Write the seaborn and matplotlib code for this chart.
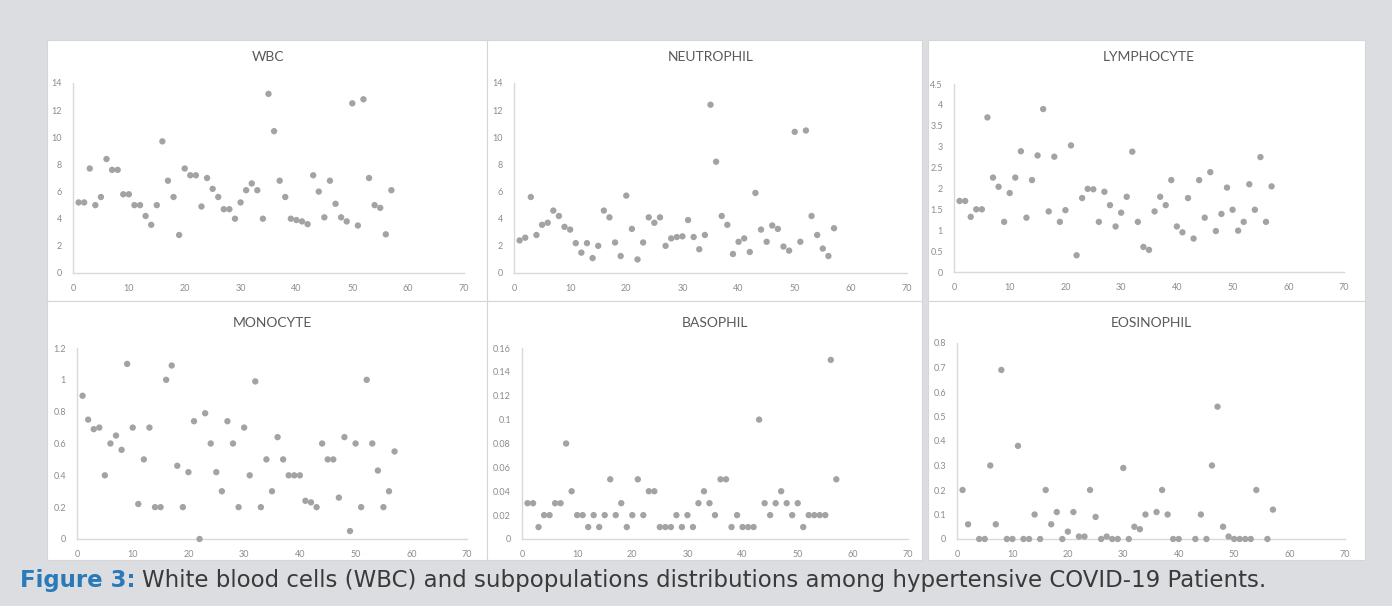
import numpy as np
import matplotlib
matplotlib.use("Agg")
import matplotlib.pyplot as plt
import seaborn as sns
from matplotlib.patches import Rectangle
from matplotlib.ticker import FuncFormatter, MultipleLocator

# patient number on the x axis
patients = np.arange(1, 58)

wbc = [5.2, 5.2, 7.7, 5.0, 5.6, 8.4, 7.6, 7.6, 5.8, 5.8,
       5.0, 5.0, 4.2, 3.55, 5.0, 9.7, 6.8, 5.6, 2.8, 7.7,
       7.2, 7.2, 4.9, 7.0, 6.2, 5.6, 4.7, 4.7, 4.0, 5.2,
       6.1, 6.6, 6.1, 4.0, 13.2, 10.45, 6.8, 5.6, 4.0, 3.9,
       3.8, 3.6, 7.2, 6.0, 4.1, 6.8, 5.1, 4.1, 3.8, 12.5,
       3.5, 12.8, 7.0, 5.0, 4.8, 2.85, 6.1]
neutrophil = [2.4, 2.6, 5.6, 2.8, 3.55, 3.7, 4.6, 4.2, 3.4, 3.2,
              2.2, 1.5, 2.2, 1.1, 2.0, 4.6, 4.1, 2.25, 1.25, 5.7,
              3.25, 1.0, 2.25, 4.1, 3.7, 4.1, 2.0, 2.55, 2.65, 2.7,
              3.9, 2.65, 1.75, 2.8, 12.4, 8.2, 4.2, 3.55, 1.4, 2.3,
              2.55, 1.55, 5.9, 3.2, 2.3, 3.5, 3.25, 1.95, 1.65, 10.4,
              2.3, 10.5, 4.2, 2.8, 1.8, 1.25, 3.3]
lymphocyte = [1.7, 1.7, 1.32, 1.5, 1.5, 3.7, 2.26, 2.04, 1.2, 1.89,
              2.26, 2.89, 1.3, 2.2, 2.79, 3.9, 1.45, 2.76, 1.2, 1.48,
              3.03, 0.4, 1.77, 1.99, 1.98, 1.2, 1.92, 1.6, 1.09, 1.42,
              1.8, 2.88, 1.2, 0.6, 0.53, 1.45, 1.8, 1.6, 2.2, 1.09,
              0.95, 1.77, 0.8, 2.2, 1.3, 2.39, 0.98, 1.39, 2.02, 1.49,
              0.99, 1.2, 2.1, 1.49, 2.75, 1.2, 2.05]
monocyte = [0.9, 0.75, 0.69, 0.7, 0.4, 0.6, 0.65, 0.56, 1.1, 0.7,
            0.22, 0.5, 0.7, 0.2, 0.2, 1.0, 1.09, 0.46, 0.2, 0.42,
            0.74, 0.0, 0.79, 0.6, 0.42, 0.3, 0.74, 0.6, 0.2, 0.7,
            0.4, 0.99, 0.2, 0.5, 0.3, 0.64, 0.5, 0.4, 0.4, 0.4,
            0.24, 0.23, 0.2, 0.6, 0.5, 0.5, 0.26, 0.64, 0.05, 0.6,
            0.2, 1.0, 0.6, 0.43, 0.2, 0.3, 0.55]
basophil = [0.03, 0.03, 0.01, 0.02, 0.02, 0.03, 0.03, 0.08, 0.04, 0.02,
            0.02, 0.01, 0.02, 0.01, 0.02, 0.05, 0.02, 0.03, 0.01, 0.02,
            0.05, 0.02, 0.04, 0.04, 0.01, 0.01, 0.01, 0.02, 0.01, 0.02,
            0.01, 0.03, 0.04, 0.03, 0.02, 0.05, 0.05, 0.01, 0.02, 0.01,
            0.01, 0.01, 0.1, 0.03, 0.02, 0.03, 0.04, 0.03, 0.02, 0.03,
            0.01, 0.02, 0.02, 0.02, 0.02, 0.15, 0.05]
# blank cells in the sheet are left as nan
eosinophil = [0.2, 0.06, np.nan, 0.0, 0.0, 0.3, 0.06, 0.69, 0.0, 0.0,
              0.38, 0.0, 0.0, 0.1, 0.0, 0.2, 0.06, 0.11, 0.0, 0.03,
              0.11, 0.01, 0.01, 0.2, 0.09, 0.0, 0.01, 0.0, 0.0, 0.29,
              0.0, 0.05, 0.04, 0.1, np.nan, 0.11, 0.2, 0.1, 0.0, 0.0,
              np.nan, np.nan, 0.0, 0.1, 0.0, 0.3, 0.54, 0.05, 0.01, 0.0,
              0.0, 0.0, 0.0, 0.2, np.nan, 0.0, 0.12]

titles = ["WBC", "NEUTROPHIL", "LYMPHOCYTE", "MONOCYTE", "BASOPHIL", "EOSINOPHIL"]
series = [wbc, neutrophil, lymphocyte, monocyte, basophil, eosinophil]
y_max = [14, 14, 4.5, 1.2, 0.16, 0.8]
y_step = [2, 2, 0.5, 0.2, 0.02, 0.1]

W, H = 1392, 606
# axes boxes in pixels: x at 0, x at 70, y at 0, y at max
axes_px = [(73, 464, 273, 83), (514, 907, 273, 83), (954, 1344, 272, 84),
           (77, 467, 539, 348), (522, 908, 539, 348), (957, 1345, 539, 343)]
# white panel boxes in pixels: left, right, top, bottom
panels_px = [(47, 487, 40, 301), (487, 922, 40, 301), (928, 1365, 40, 301),
             (47, 487, 301, 560), (487, 922, 301, 560), (928, 1365, 301, 560)]

sns.set_theme(style="white")
plt.rcParams['font.family'] = ['Lato', 'DejaVu Sans']

fig = plt.figure(figsize=(W / 100, H / 100), dpi=100)
fig.patch.set_facecolor("#dcdde0")

for (l, r, t, b) in panels_px:
    fig.patches.append(Rectangle((l / W, 1 - b / H), (r - l) / W, (b - t) / H,
                                 transform=fig.transFigure, facecolor="white",
                                 edgecolor="#d6d6d6", linewidth=0.8, zorder=-5))

fmt = FuncFormatter(lambda v, p: f"{round(v, 4):g}")

for i, (vals, title) in enumerate(zip(series, titles)):
    x0, x70, y0, ytop = axes_px[i]
    ax = fig.add_axes([x0 / W, 1 - y0 / H, (x70 - x0) / W, (y0 - ytop) / H])
    ax.set_zorder(2)
    ax.set_facecolor("none")
    sns.scatterplot(x=patients, y=vals, ax=ax, color="#a3a3a3", s=21,
                    edgecolor="none", clip_on=False, zorder=3)
    ax.set_xlim(0, 70)
    ax.set_ylim(0, y_max[i])
    ax.xaxis.set_major_locator(MultipleLocator(10))
    ax.yaxis.set_major_locator(MultipleLocator(y_step[i]))
    ax.yaxis.set_major_formatter(fmt)
    ax.tick_params(length=0, labelsize=6.5, labelcolor="#8c8c8c", pad=8)
    for side in ["top", "right"]:
        ax.spines[side].set_visible(False)
    for side in ["left", "bottom"]:
        ax.spines[side].set_color("#d9d9d9")
        ax.spines[side].set_linewidth(1.0)
    ax.grid(False)
    ax.set_xlabel("")
    ax.set_ylabel("")
    ty = 57 if i < 3 else 323
    fig.text((x0 + x70) / 2 / W, 1 - ty / H, title, ha="center", va="center",
             fontsize=10, color="#595959")

fig.text(20 / W, 1 - 580 / H, "Figure 3:", ha="left", va="center",
         fontsize=16.5, color="#2a7ab9", fontweight="bold", family="DejaVu Sans")
fig.text(142 / W, 1 - 580 / H,
         "White blood cells (WBC) and subpopulations distributions among hypertensive COVID-19 Patients.",
         ha="left", va="center", fontsize=16.5, color="#3a3a3a", family="DejaVu Sans")

fig.savefig("out.png", dpi=100, facecolor=fig.get_facecolor())
